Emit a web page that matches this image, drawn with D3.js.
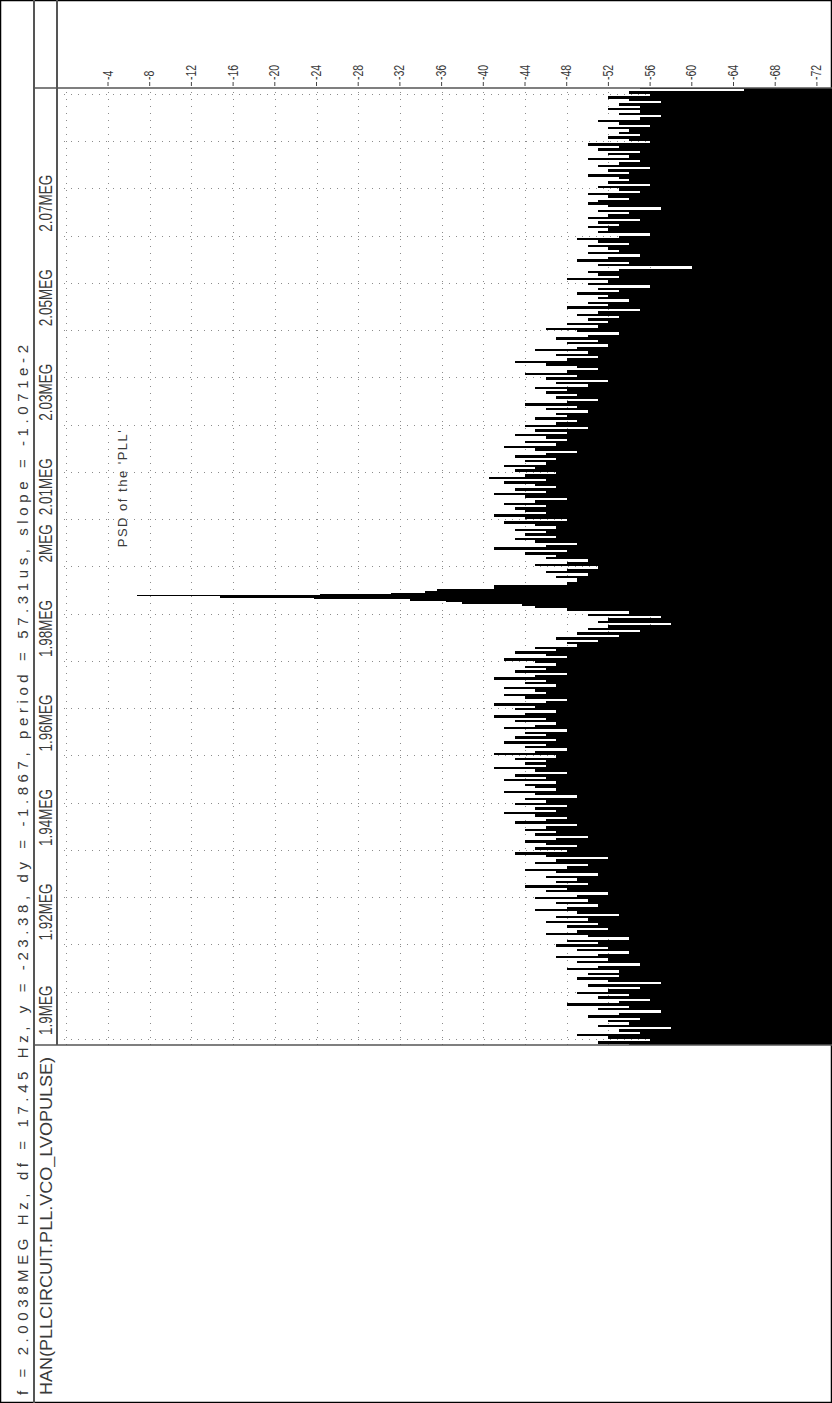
<!DOCTYPE html>
<html>
<head>
<meta charset="utf-8">
<script src="https://cdn.jsdelivr.net/npm/d3@7"></script>
<style>
  html, body { margin: 0; padding: 0; background: #fff; }
  svg { display: block; }
  text { font-family: "Liberation Sans", Arial, sans-serif; fill: #3a3a3a; }
</style>
</head>
<body>
<svg id="chart" width="832" height="1403"></svg>
<script>
// ---- data -------------------------------------------------------------
const headerText = "f = 2.0038MEG Hz, df = 17.45 Hz, y = -23.38, dy = -1.867, period = 57.31us, slope = -1.071e-2";
const traceName = "HAN(PLLCIRCUIT.PLL.VCO_LVOPULSE)";
const annotation = "PSD of the 'PLL'";

const freqGrid = [1.9, 1.91, 1.92, 1.93, 1.94, 1.95, 1.96, 1.97, 1.98, 1.99, 2.0,
                  2.01, 2.02, 2.03, 2.04, 2.05, 2.06, 2.07, 2.08, 2.09, 2.1];
const freqLabelValues = [1.9, 1.92, 1.94, 1.96, 1.98, 2.0, 2.01, 2.03, 2.05, 2.07];
const freqLabelText = ["1.9MEG", "1.92MEG", "1.94MEG", "1.96MEG", "1.98MEG",
                       "2MEG", "2.01MEG", "2.03MEG", "2.05MEG", "2.07MEG"];
const dbGrid = [0, -4, -8, -12, -16, -20, -24, -28, -32, -36, -40, -44, -48,
                -52, -56, -60, -64, -68, -72];
const dbLabels = [-4, -8, -12, -16, -20, -24, -28, -32, -36, -40, -44, -48,
                  -52, -56, -60, -64, -68, -72];

// spectrum below the carrier: 1.899 .. 1.9905 MHz, 0.5 kHz spacing (dB)
const lowerStart = 1.899;
const lowerDb = [
  -54, -51, -56, -52, -49, -55, -53, -58, -51, -54,
  -52, -55, -50, -53, -57, -51, -54, -48, -53, -56,
  -51, -54, -49, -52, -55, -50, -57, -52, -49, -53,
  -50, -53, -48, -51, -55, -49, -52, -47, -51, -54,
  -49, -52, -47, -51, -48, -54, -50, -46, -49, -52,
  -48, -51, -46, -50, -47, -53, -49, -45, -48, -51,
  -47, -50, -45, -49, -52, -46, -48, -44, -50, -47,
  -49, -46, -51, -47, -44, -48, -50, -45, -47, -52,
  -46, -43, -48, -45, -49, -46, -44, -47, -50, -45,
  -47, -44, -46, -49, -43, -46, -48, -45, -42, -47,
  -45, -48, -43, -46, -44, -49, -45, -42, -47, -45,
  -44, -47, -42, -46, -43, -48, -45, -41, -46, -44,
  -46, -43, -47, -41, -45, -48, -44, -46, -42, -47,
  -43, -46, -44, -48, -42, -45, -47, -43, -46, -41,
  -44, -47, -43, -45, -41, -46, -48, -44, -42, -46,
  -45, -42, -47, -44, -46, -41, -45, -48, -43, -46,
  -44, -47, -45, -42, -48, -46, -43, -47, -45, -49,
  -48, -51, -47, -53, -49, -55, -50, -52, -58, -51,
  -52, -57, -50, -54
];
// carrier peak, finer spacing (MHz, dB)
const peakFreq = [1.9912, 1.9916, 1.9921, 1.9925, 1.9927, 1.9931, 1.9935, 1.9938,
                  1.9940, 1.9942, 1.9946, 1.9948, 1.9952, 1.9959, 1.9967, 1.9971];
const peakDb = [-48, -45, -43.7, -38, -36.4, -33, -23.8, -14.7,
                -6.8, -24.3, -31.1, -34.4, -35.6, -41, -48, -49];
// spectrum above the carrier: 1.9975 .. 2.1015 MHz, 0.5 kHz spacing (dB)
const upperStart = 1.9975;
const upperDb = [
  -49, -47, -50, -46, -48, -51, -45, -48, -50, -46,
  -47, -44, -48, -41, -46, -49, -45, -43, -47, -44,
  -46, -43, -47, -45, -42, -48, -44, -41, -46, -44,
  -43, -46, -42, -45, -48, -44, -41, -46, -43, -47,
  -45, -42, -46, -40.5, -44, -47, -43, -45, -42, -46,
  -44, -47, -43, -46, -49, -45, -42, -47, -44, -48,
  -46, -43, -48, -45, -50, -44, -47, -49, -45, -48,
  -47, -50, -46, -49, -44, -48, -51, -47, -49, -46,
  -48, -45, -50, -47, -52, -46, -49, -44, -48, -51,
  -49, -46, -43, -48, -51, -47, -50, -45, -49, -52,
  -48, -51, -47, -50, -53, -49, -46, -51, -48, -52,
  -50, -53, -49, -51, -55, -48, -52, -50, -54, -51,
  -52, -49, -53, -51, -56, -50, -52, -48, -53, -51,
  -50, -53, -60, -51, -54, -49, -52, -55, -50, -53,
  -52, -50, -54, -51, -49, -53, -56, -51, -52, -50,
  -53, -51, -55, -50, -52, -54, -51, -57, -52, -50,
  -51, -54, -52, -50, -55, -53, -51, -56, -52, -54,
  -53, -50, -54, -52, -56, -51, -53, -55, -50, -54,
  -52, -55, -51, -53, -50, -56, -54, -52, -55, -53,
  -54, -52, -56, -53, -51, -55, -57, -53, -55, -52,
  -55, -53, -57, -54, -52, -56, -54, -65, -55
];
const stepMHz = 0.0005;

// ---- assemble samples ---------------------------------------------------
const samples = [];
lowerDb.forEach((v, i) => samples.push({ f: lowerStart + i * stepMHz, db: v }));
peakFreq.forEach((f, i) => samples.push({ f: f, db: peakDb[i] }));
upperDb.forEach((v, i) => samples.push({ f: upperStart + i * stepMHz, db: v }));

// ---- layout (drawn landscape, then turned a quarter to portrait) ----------
const W = 1403, H = 832;
const svg = d3.select("#chart");
const root = svg.append("g").attr("transform", `translate(0,${W}) rotate(-90)`);

const x = d3.scaleLinear().domain([1.9, 2.1]).range([363, 1308]);
const y = d3.scaleLinear().domain([0, -72]).range([66.3, 816.9]);
const plotLeft = 358, plotRight = 1315, plotTop = 57, plotBottom = 831;
const fLo = x.invert(plotLeft), fHi = x.invert(plotRight);

// grid
const grid = root.append("g").attr("stroke", "#8c8c8c").attr("stroke-width", 1)
  .attr("stroke-dasharray", "1,6");
grid.selectAll("line.fg").data(freqGrid).join("line")
  .attr("x1", d => Math.round(x(d)) + 0.5).attr("x2", d => Math.round(x(d)) + 0.5)
  .attr("y1", plotTop).attr("y2", plotBottom);
grid.selectAll("line.dg").data(dbGrid).join("line")
  .attr("y1", d => Math.round(y(d)) + 0.5).attr("y2", d => Math.round(y(d)) + 0.5)
  .attr("x1", plotLeft).attr("x2", plotRight);

// spectrum bars, each spanning midpoint to midpoint
const bounds = samples.map((s, i) => i === 0 ? fLo : (samples[i - 1].f + s.f) / 2);
bounds.push(fHi);
root.append("g").attr("shape-rendering", "crispEdges")
  .selectAll("rect").data(samples).join("rect")
  .attr("x", (d, i) => x(bounds[i]))
  .attr("width", (d, i) => Math.max(0.6, x(bounds[i + 1]) - x(bounds[i])))
  .attr("y", d => y(d.db))
  .attr("height", d => plotBottom - y(d.db))
  .attr("fill", "#000");

// frame
const frame = root.append("g").attr("fill", "none");
frame.append("rect").attr("x", 0.5).attr("y", 0.5).attr("width", W - 1).attr("height", H - 1)
  .attr("stroke", "#000").attr("stroke-width", 1.5);
frame.append("line").attr("x1", 0).attr("x2", W).attr("y1", 34).attr("y2", 34)
  .attr("stroke", "#555").attr("stroke-width", 2);
frame.append("line").attr("x1", plotLeft).attr("x2", W).attr("y1", plotTop).attr("y2", plotTop)
  .attr("stroke", "#555").attr("stroke-width", 2);
frame.append("line").attr("x1", plotLeft).attr("x2", plotLeft).attr("y1", 34).attr("y2", H)
  .attr("stroke", "#555").attr("stroke-width", 1.5);
frame.append("line").attr("x1", plotRight).attr("x2", plotRight).attr("y1", 34).attr("y2", H)
  .attr("stroke", "#555").attr("stroke-width", 1.5);

// dB ticks and labels
root.append("g").selectAll("line").data(dbLabels).join("line")
  .attr("x1", plotRight + 2).attr("x2", plotRight + 6)
  .attr("y1", d => y(d)).attr("y2", d => y(d))
  .attr("stroke", "#444");
root.append("g").selectAll("text").data(dbLabels).join("text")
  .attr("transform", d => `translate(${plotRight + 8},${y(d)}) scale(0.75,1)`)
  .attr("dominant-baseline", "central")
  .attr("font-size", 14)
  .text(d => d);

// frequency labels
root.append("g").selectAll("text").data(freqLabelValues).join("text")
  .attr("transform", d => `translate(${x(d) + 5},52) scale(0.75,1)`)
  .attr("font-size", 18)
  .text((d, i) => freqLabelText[i]);

// header texts
root.append("text").attr("x", 8).attr("y", 28).attr("font-size", 15)
  .attr("textLength", 1050).attr("lengthAdjust", "spacing")
  .text(headerText);
root.append("text").attr("x", 8).attr("y", 52).attr("font-size", 16)
  .attr("textLength", 338).attr("lengthAdjust", "spacingAndGlyphs")
  .text(traceName);

// annotation inside the plot
root.append("text").attr("x", x(2.0043)).attr("y", 127).attr("font-size", 13)
  .attr("fill", "#555")
  .attr("textLength", 117).attr("lengthAdjust", "spacing")
  .text(annotation);
</script>
</body>
</html>
